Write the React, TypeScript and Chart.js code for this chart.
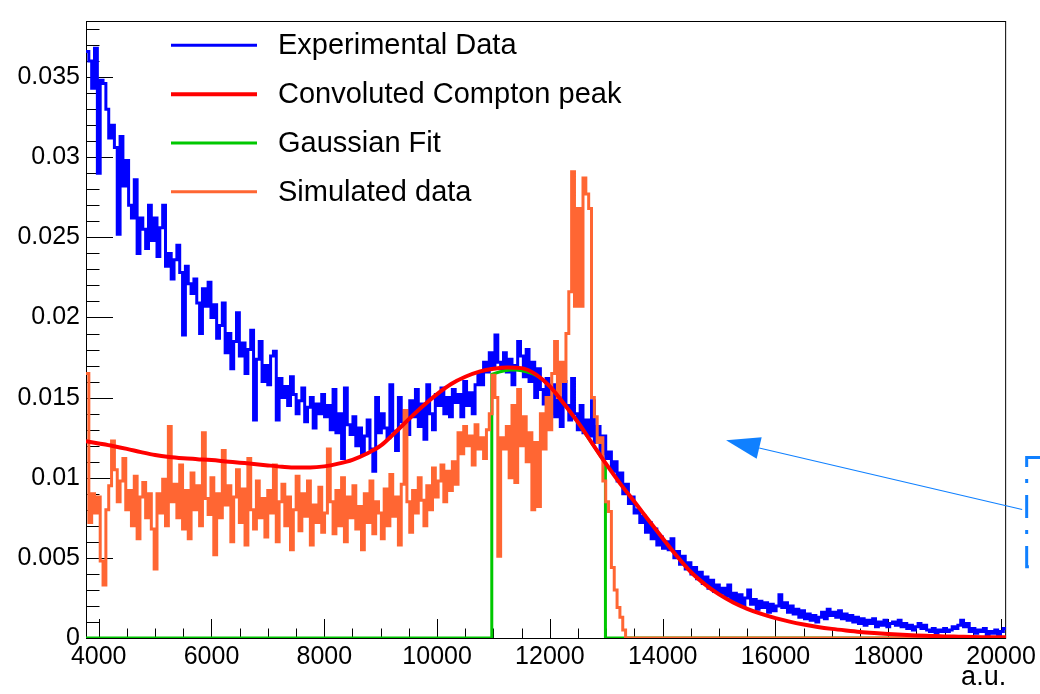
import { useEffect, useRef } from 'react';
import { Chart, registerables } from 'chart.js';

Chart.register(...registerables);

// ---------- axis ranges & labels ----------
const X_MIN = 3775;
const X_MAX = 20090;
const Y_MAX = 0.0385;
const HIST_LO = 3775;
const HIST_HI = 20090;

const X_TICKS = [4000, 6000, 8000, 10000, 12000, 14000, 16000, 18000, 20000];
const X_TICK_LABELS = ['4000', '6000', '8000', '10000', '12000', '14000', '16000', '18000', '20000'];
const Y_TICKS = [0, 0.005, 0.01, 0.015, 0.02, 0.025, 0.03, 0.035];
const Y_TICK_LABELS = ['0', '0.005', '0.01', '0.015', '0.02', '0.025', '0.03', '0.035'];
const X_TITLE = 'a.u.';

const LEGEND_LABELS = ['Experimental Data', 'Convoluted Compton peak', 'Gaussian Fit', 'Simulated data'];

// ---------- Experimental data (histogram, 324 bins) ----------
const EXPERIMENTAL = [
  0.0366, 0.0360, 0.0343, 0.0368,
  0.0290, 0.0348, 0.0346, 0.0330, 0.0312, 0.0320, 0.0306, 0.0252, 0.0313, 0.0282, 0.0298, 0.0270, 0.0262, 0.0286, 0.0240, 0.0262, 0.0255, 0.0243, 0.0270, 0.0248,
  0.0262, 0.0238, 0.0256, 0.0270, 0.0232, 0.0240, 0.0224, 0.0236, 0.0245, 0.0228, 0.0189, 0.0232, 0.0221, 0.0215, 0.0224, 0.0209, 0.0190, 0.0218, 0.0207, 0.0222,
  0.0200, 0.0208, 0.0187, 0.0195, 0.0209, 0.0178, 0.0190, 0.0168, 0.0185, 0.0203, 0.0176, 0.0184, 0.0165, 0.0180, 0.0192, 0.0136, 0.0174, 0.0185, 0.0160, 0.0170,
  0.0158, 0.0176, 0.0179, 0.0136, 0.0162, 0.0150, 0.0157, 0.0145, 0.0163, 0.0152, 0.0140, 0.0148, 0.0156, 0.0135, 0.0144, 0.0150, 0.0131, 0.0146, 0.0140, 0.0152,
  0.0138, 0.0145, 0.0130, 0.0155, 0.0128, 0.0140, 0.0112, 0.0156, 0.0133, 0.0127, 0.0138, 0.0120, 0.0131, 0.0115, 0.0126, 0.0136, 0.0118, 0.0104, 0.0150, 0.0128,
  0.0140, 0.0131, 0.0125, 0.0158, 0.0129, 0.0117, 0.0150, 0.0135, 0.0142, 0.0127, 0.0148, 0.0138, 0.0155, 0.0132, 0.0146, 0.0124, 0.0158, 0.0140, 0.0130, 0.0152,
  0.0145, 0.0156, 0.0140, 0.0150, 0.0138, 0.0155, 0.0147, 0.0152, 0.0138, 0.0160, 0.0145, 0.0153, 0.0140, 0.0158, 0.0165, 0.0158, 0.0172, 0.0166, 0.0178, 0.0170,
  0.0189, 0.0172, 0.0168, 0.0178, 0.0166, 0.0174, 0.0158, 0.0170, 0.0185, 0.0176, 0.0163, 0.0180, 0.0160, 0.0172, 0.0150, 0.0168, 0.0155, 0.0146, 0.0162, 0.0140,
  0.0158, 0.0138, 0.0150, 0.0132, 0.0160, 0.0145, 0.0136, 0.0162, 0.0140, 0.0130, 0.0145, 0.0128, 0.0136, 0.0126, 0.0148, 0.0122, 0.0132, 0.0115, 0.0126, 0.0112,
  0.0116, 0.0104, 0.0110, 0.0098, 0.0103, 0.0090, 0.0096, 0.0084, 0.0088, 0.0078, 0.0080, 0.0072, 0.0076, 0.0066, 0.0072, 0.0062, 0.0068, 0.0058, 0.0063, 0.0056,
  0.0060, 0.0055, 0.0062, 0.0050, 0.0054, 0.0046, 0.0051, 0.0043, 0.0047, 0.0040, 0.0044, 0.0037, 0.0041, 0.0034, 0.0038, 0.0031, 0.0036, 0.0029, 0.0033, 0.0028,
  0.0031, 0.0026, 0.0033, 0.0024, 0.0028, 0.0022, 0.0027, 0.0020, 0.0025, 0.0030, 0.0021, 0.0024, 0.0018, 0.0023, 0.0019, 0.0022, 0.0016, 0.0021, 0.0017, 0.0020,
  0.0027, 0.0019, 0.0022, 0.0016, 0.0020, 0.0015, 0.0018, 0.0013, 0.0017, 0.0012, 0.0015, 0.0011, 0.0014, 0.0010, 0.0013, 0.0016, 0.0012, 0.0018, 0.0014, 0.0016,
  0.0013, 0.0017, 0.0012, 0.0015, 0.0011, 0.0014, 0.0010, 0.0013, 0.0009, 0.0012, 0.0008, 0.0011, 0.0009, 0.0012, 0.0007, 0.0010, 0.0008, 0.0011, 0.0007, 0.0009,
  0.0010, 0.0008, 0.0011, 0.0007, 0.0009, 0.0006, 0.0008, 0.0005, 0.0007, 0.0009, 0.0006, 0.0008, 0.0005, 0.0004, 0.0006, 0.0003, 0.0005, 0.0004, 0.0006, 0.0004,
  0.0005, 0.0007, 0.0006, 0.0008, 0.0011, 0.0007, 0.0009, 0.0004, 0.0006, 0.0003, 0.0005, 0.0004, 0.0006, 0.0002, 0.0004, 0.0003, 0.0005, 0.0002, 0.0004, 0.0006,
];

// ---------- Simulated data (histogram, 324 bins) ----------
const SIMULATED = [
  0.0165, 0.0072, 0.0090, 0.0078,
  0.0088, 0.0048, 0.0033, 0.0080, 0.0095, 0.0123, 0.0105, 0.0085, 0.0098, 0.0112, 0.0080, 0.0092, 0.0070, 0.0101, 0.0062, 0.0088, 0.0097, 0.0075, 0.0090, 0.0068,
  0.0043, 0.0090, 0.0078, 0.0099, 0.0070, 0.0132, 0.0085, 0.0096, 0.0075, 0.0108, 0.0068, 0.0092, 0.0062, 0.0103, 0.0080, 0.0095, 0.0070, 0.0128, 0.0087, 0.0077,
  0.0100, 0.0052, 0.0090, 0.0075, 0.0117, 0.0083, 0.0095, 0.0060, 0.0088, 0.0105, 0.0072, 0.0093, 0.0058, 0.0112, 0.0080, 0.0068, 0.0098, 0.0075, 0.0087, 0.0063,
  0.0092, 0.0078, 0.0108, 0.0060, 0.0085, 0.0096, 0.0070, 0.0088, 0.0055, 0.0080, 0.0101, 0.0067, 0.0090, 0.0076, 0.0098, 0.0058, 0.0083, 0.0072, 0.0094, 0.0066,
  0.0078, 0.0118, 0.0085, 0.0065, 0.0092, 0.0070, 0.0100, 0.0060, 0.0088, 0.0075, 0.0095, 0.0068, 0.0082, 0.0055, 0.0090, 0.0072, 0.0098, 0.0065, 0.0085, 0.0078,
  0.0062, 0.0093, 0.0070, 0.0102, 0.0076, 0.0088, 0.0058, 0.0096, 0.0142, 0.0085, 0.0066, 0.0092, 0.0078, 0.0100, 0.0086, 0.0070, 0.0095, 0.0080, 0.0106, 0.0088,
  0.0098, 0.0108, 0.0085, 0.0104, 0.0092, 0.0110, 0.0096, 0.0128, 0.0115, 0.0132, 0.0120, 0.0126, 0.0108, 0.0133, 0.0118, 0.0125, 0.0112, 0.0130, 0.0140, 0.0164,
  0.0150, 0.0051, 0.0125, 0.0118, 0.0132, 0.0100, 0.0145, 0.0097, 0.0155, 0.0120, 0.0138, 0.0110, 0.0128, 0.0080, 0.0122, 0.0082, 0.0140, 0.0118, 0.0150, 0.0130,
  0.0165, 0.0185, 0.0150, 0.0172, 0.0160, 0.0190, 0.0216, 0.0291, 0.0207, 0.0268, 0.0207, 0.0287, 0.0277, 0.0268, 0.0150, 0.0138, 0.0122, 0.0125, 0.0098, 0.0085,
  0.0079, 0.0044, 0.0030, 0.0019, 0.0013, 0.0005, 0, 0, 0, 0, 0, 0, 0, 0, 0, 0, 0, 0, 0, 0,
  0, 0, 0, 0, 0, 0, 0, 0, 0, 0, 0, 0, 0, 0, 0, 0, 0, 0, 0, 0,
  0, 0, 0, 0, 0, 0, 0, 0, 0, 0, 0, 0, 0, 0, 0, 0, 0, 0, 0, 0,
  0, 0, 0, 0, 0, 0, 0, 0, 0, 0, 0, 0, 0, 0, 0, 0, 0, 0, 0, 0,
  0, 0, 0, 0, 0, 0, 0, 0, 0, 0, 0, 0, 0, 0, 0, 0, 0, 0, 0, 0,
  0, 0, 0, 0, 0, 0, 0, 0, 0, 0, 0, 0, 0, 0, 0, 0, 0, 0, 0, 0,
  0, 0, 0, 0, 0, 0, 0, 0, 0, 0, 0, 0, 0, 0, 0, 0, 0, 0, 0, 0,
];

// ---------- Convoluted Compton peak (smooth curve) ----------
const COMPTON_X = [
  3775, 4000, 4250, 4500, 4750, 5000, 5250, 5500, 5750, 6000, 6250, 6500, 6750, 7000, 7250, 7500, 7750,
  8000, 8250, 8500, 8750, 9000, 9250, 9500, 9750, 10000, 10250, 10500, 10750, 11000, 11250, 11500, 11750,
  12000, 12250, 12500, 12750, 13000, 13250, 13500, 13750, 14000, 14250, 14500, 14750, 15000, 15250, 15500, 15750,
  16000, 16250, 16500, 16750, 17000, 17250, 17500, 17750, 18000, 18250, 18500, 18750, 19000, 19250, 19500, 19750,
  20000, 20090,
];
const COMPTON_Y = [
  0.01228, 0.01214, 0.01198, 0.01180, 0.01160, 0.01142, 0.01130, 0.01122, 0.01116, 0.01110, 0.01102, 0.01094, 0.01086, 0.01077, 0.01069, 0.01064, 0.01064,
  0.01071, 0.01088, 0.01112, 0.01150, 0.01200, 0.01280, 0.01366, 0.01448, 0.01522, 0.01585, 0.01630, 0.01662, 0.01680, 0.01688, 0.01684, 0.01645,
  0.01570, 0.01462, 0.01345, 0.01215, 0.01085, 0.00962, 0.00850, 0.00735, 0.00622, 0.00512, 0.00412, 0.00335, 0.00272, 0.00222, 0.00182, 0.00150,
  0.00124, 0.00102, 0.00084, 0.00069, 0.00057, 0.00047, 0.00038, 0.00031, 0.00025, 0.00020, 0.00016, 0.00013, 0.00010, 0.00008, 0.00006, 0.00005,
  0.00004, 0.00004,
];

// ---------- Gaussian fit (drawn between its range limits) ----------
const GAUSS_X = [
  10970, 11100, 11200, 11300, 11400, 11500, 11600, 11700, 11800, 11900, 12000,
  12100, 12200, 12300, 12400, 12500, 12600, 12700, 12800, 12900, 12985,
];
const GAUSS_Y = [
  0.01645, 0.01660, 0.01668, 0.01672, 0.01672, 0.01668, 0.01660, 0.01648, 0.01630, 0.01603, 0.01566,
  0.01526, 0.01482, 0.01436, 0.01390, 0.01341, 0.01290, 0.01238, 0.01186, 0.01133, 0.01090,
];

// ---------- annotation (arrow + clipped dash-dot box), data coordinates ----------
const ARROW_FROM = { x: 20374, y: 0.00802 };
const ARROW_TO = { x: 15124, y: 0.01234 };
const BOX = { left: 20454, top: 0.01127, bottom: 0.00444 };

const COLORS = {
  experimental: '#0000ff',
  compton: '#ff0000',
  gauss: '#00c800',
  simulated: '#ff6633',
  annotation: '#1080ff',
};

const FONT = "'Liberation Sans', Arial, Helvetica, sans-serif";

function histPoints(values: number[]) {
  const w = (HIST_HI - HIST_LO) / values.length;
  const pts = values.map((v, i) => ({ x: HIST_LO + i * w, y: v }));
  pts.push({ x: HIST_HI, y: values[values.length - 1] });
  return pts;
}

const rootFramePlugin = {
  id: 'rootFrame',
  beforeDatasetsDraw(chart: any) {
    const { ctx, chartArea: a, scales } = chart;
    const x = scales.x;
    const y = scales.y;
    ctx.save();
    ctx.strokeStyle = '#000';
    ctx.lineWidth = 1;
    ctx.strokeRect(a.left + 0.5, a.top + 0.5, a.right - a.left - 1, a.bottom - a.top);
    ctx.beginPath();
    for (let i = 0; i <= 38; i++) {
      const p = Math.round(y.getPixelForValue(i / 1000)) + 0.5;
      const len = i % 5 === 0 ? 27 : 13.5;
      ctx.moveTo(a.left, p);
      ctx.lineTo(a.left + len, p);
    }
    for (let v = 4000; v <= 20000; v += 500) {
      const p = Math.round(x.getPixelForValue(v)) + 0.5;
      const len = v % 2000 === 0 ? 19 : 9.5;
      ctx.moveTo(p, a.bottom);
      ctx.lineTo(p, a.bottom - len);
    }
    ctx.stroke();
    ctx.restore();
  },
};

const legendAndNotePlugin = {
  id: 'legendAndNote',
  afterDraw(chart: any) {
    const { ctx, scales } = chart;
    const x = scales.x;
    const y = scales.y;
    ctx.save();
    // legend (order as in the reference)
    const entries = [
      { label: LEGEND_LABELS[0], color: COLORS.experimental, w: 3 },
      { label: LEGEND_LABELS[1], color: COLORS.compton, w: 4 },
      { label: LEGEND_LABELS[2], color: COLORS.gauss, w: 3 },
      { label: LEGEND_LABELS[3], color: COLORS.simulated, w: 3 },
    ];
    const rowY = [45.3, 94.2, 143, 191.8];
    ctx.font = `29px ${FONT}`;
    ctx.textBaseline = 'middle';
    ctx.textAlign = 'left';
    entries.forEach((e, i) => {
      ctx.strokeStyle = e.color;
      ctx.lineWidth = e.w;
      ctx.beginPath();
      ctx.moveTo(171, rowY[i]);
      ctx.lineTo(257, rowY[i]);
      ctx.stroke();
      ctx.fillStyle = '#000';
      ctx.fillText(e.label, 278, rowY[i] + 1);
    });

    // arrow
    const x0 = x.getPixelForValue(ARROW_FROM.x);
    const y0 = y.getPixelForValue(ARROW_FROM.y);
    const x1 = x.getPixelForValue(ARROW_TO.x);
    const y1 = y.getPixelForValue(ARROW_TO.y);
    const ang = Math.atan2(y1 - y0, x1 - x0);
    const headLen = 34;
    const headHalf = 11;
    const bx = x1 - headLen * Math.cos(ang);
    const by = y1 - headLen * Math.sin(ang);
    ctx.strokeStyle = COLORS.annotation;
    ctx.fillStyle = COLORS.annotation;
    ctx.lineWidth = 1.2;
    ctx.beginPath();
    ctx.moveTo(x0, y0);
    ctx.lineTo(bx, by);
    ctx.stroke();
    ctx.beginPath();
    ctx.moveTo(x1, y1);
    ctx.lineTo(bx + headHalf * Math.sin(ang), by - headHalf * Math.cos(ang));
    ctx.lineTo(bx - headHalf * Math.sin(ang), by + headHalf * Math.cos(ang));
    ctx.closePath();
    ctx.fill();

    // clipped dash-dot box
    const bl = x.getPixelForValue(BOX.left);
    const bt = y.getPixelForValue(BOX.top);
    const bb = y.getPixelForValue(BOX.bottom);
    ctx.lineWidth = 3;
    ctx.setLineDash([23, 12, 4, 12]);
    ctx.beginPath();
    ctx.moveTo(chart.width, bt);
    ctx.lineTo(bl, bt);
    ctx.lineTo(bl, bb);
    ctx.lineTo(chart.width + 20, bb);
    ctx.stroke();
    ctx.restore();
  },
};

export default function App() {
  const ref = useRef<HTMLCanvasElement | null>(null);

  useEffect(() => {
    if (!ref.current) return;
    const gaussPoints = [
      { x: X_MIN, y: 0 },
      { x: GAUSS_X[0], y: 0 },
      ...GAUSS_X.map((gx, i) => ({ x: gx, y: GAUSS_Y[i] })),
      { x: GAUSS_X[GAUSS_X.length - 1], y: 0 },
      { x: X_MAX, y: 0 },
    ];
    const chart = new Chart(ref.current, {
      type: 'line',
      data: {
        datasets: [
          {
            label: LEGEND_LABELS[1],
            data: COMPTON_X.map((cx, i) => ({ x: cx, y: COMPTON_Y[i] })),
            borderColor: COLORS.compton,
            borderWidth: 4,
            cubicInterpolationMode: 'monotone',
            pointRadius: 0,
            fill: false,
            order: 0,
          },
          {
            label: LEGEND_LABELS[3],
            data: histPoints(SIMULATED),
            borderColor: COLORS.simulated,
            borderWidth: 3,
            stepped: 'before',
            borderJoinStyle: 'miter',
            pointRadius: 0,
            fill: false,
            order: 1,
          },
          {
            label: LEGEND_LABELS[2],
            data: gaussPoints,
            borderColor: COLORS.gauss,
            borderWidth: 3,
            tension: 0,
            borderJoinStyle: 'miter',
            pointRadius: 0,
            fill: false,
            order: 2,
          },
          {
            label: LEGEND_LABELS[0],
            data: histPoints(EXPERIMENTAL),
            borderColor: COLORS.experimental,
            borderWidth: 3,
            stepped: 'before',
            borderJoinStyle: 'miter',
            pointRadius: 0,
            fill: false,
            order: 3,
          },
        ],
      } as any,
      options: {
        responsive: false,
        maintainAspectRatio: false,
        animation: false,
        layout: { padding: { left: 0, right: 31, top: 10, bottom: 0 } },
        plugins: { legend: { display: false }, tooltip: { enabled: false } },
        elements: { point: { radius: 0 } },
        scales: {
          x: {
            type: 'linear',
            min: X_MIN,
            max: X_MAX,
            grid: { display: false, drawTicks: false },
            border: { display: false },
            afterBuildTicks: (s: any) => {
              s.ticks = X_TICKS.map((v) => ({ value: v }));
            },
            afterFit: (s: any) => {
              s.height = 56;
            },
            ticks: {
              autoSkip: false,
              maxRotation: 0,
              minRotation: 0,
              padding: 4,
              color: '#000',
              font: { family: FONT, size: 25 },
              callback: (v: any) => X_TICK_LABELS[X_TICKS.indexOf(Number(v))] ?? '',
            },
            title: {
              display: true,
              text: X_TITLE,
              align: 'end',
              color: '#000',
              font: { family: FONT, size: 27 },
              padding: { top: 0, bottom: 0 },
            },
          },
          y: {
            type: 'linear',
            min: 0,
            max: Y_MAX,
            grid: { display: false, drawTicks: false },
            border: { display: false },
            afterBuildTicks: (s: any) => {
              s.ticks = Y_TICKS.map((v) => ({ value: v }));
            },
            afterFit: (s: any) => {
              s.width = 86;
            },
            ticks: {
              autoSkip: false,
              padding: 6,
              color: '#000',
              font: { family: FONT, size: 25 },
              callback: (v: any) => Y_TICK_LABELS[Y_TICKS.indexOf(Number(v))] ?? '',
            },
          },
        },
      } as any,
      plugins: [rootFramePlugin, legendAndNotePlugin],
    });
    return () => chart.destroy();
  }, []);

  return (
    <div style={{ position: 'absolute', left: 0, top: 0, width: 1040, height: 694, background: '#fff' }}>
      <canvas ref={ref} width={1040} height={694} style={{ display: 'block' }} />
    </div>
  );
}
